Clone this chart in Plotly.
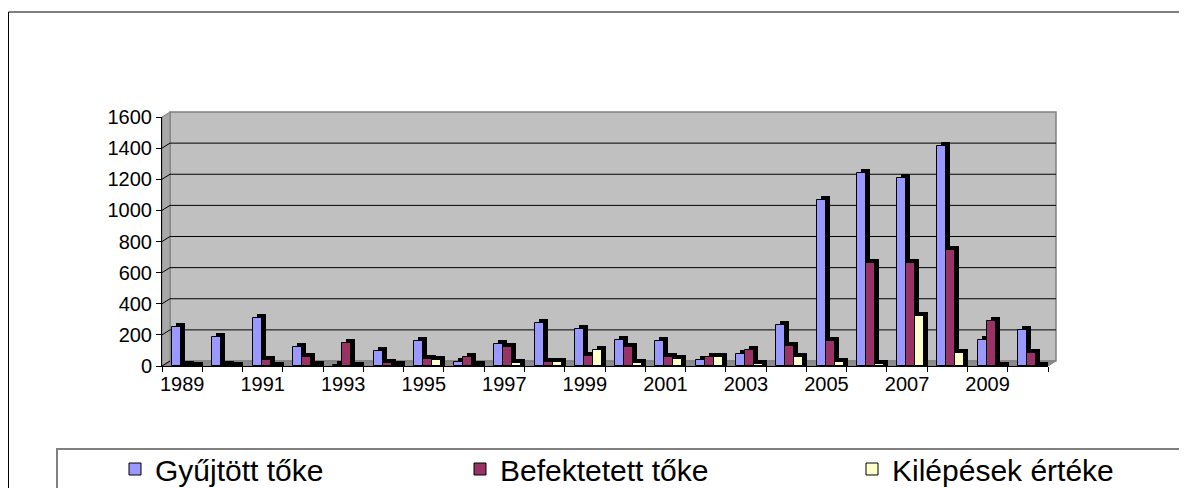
import plotly.graph_objects as go

# ---------------- data ----------------
years = list(range(1989, 2011))
gyujtott = [250, 185, 310, 120, 5, 95, 160, 25, 140, 275, 235, 170, 160, 40, 80, 265,
            1065, 1240, 1210, 1415, 165, 230]
befektetett = [5, 5, 40, 55, 150, 20, 45, 60, 125, 25, 65, 120, 60, 55, 100, 130,
               160, 660, 660, 745, 290, 85]
kilepesek = [0, 0, 0, 5, 0, 5, 40, 5, 20, 25, 100, 20, 45, 55, 15, 60,
             25, 15, 320, 85, 0, 0]
series_names = ["Gyűjtött tőke", "Befektetett tőke", "Kilépések értéke"]
series_values = [gyujtott, befektetett, kilepesek]
series_colors = ["#9999FF", "#993366", "#FFFFCC"]
label_years = years[::2]
tick_labels = [str(y) for y in label_years]
y_ticks = list(range(0, 1601, 200))

# ---------------- geometry (pixels, page coordinates) ----------------
PAGE_OFF = 8                         # default body margin of the html page
W, H = 1187 - PAGE_OFF, 488 - PAGE_OFF
L, R, T, B = 162, 1048, 117, 366     # plot area in page pixels
YMAX = 1600
unit = (R - L) / len(years)          # px per category
DX, DY = 8, 5                        # wall depth offset
bdx, bdy = 4, 4                      # bar depth
front_w = 9
offsets_px = [-10, -1, 8]
dv_units = bdy * YMAX / (B - T)


def px(x):
    return (x - L) / (R - L)


def py(y):
    return (B - y) / (B - T)


FONT = "Liberation Sans, Arial, sans-serif"

fig = go.Figure()

legends = ["legend", "legend2", "legend3"]
for i, (name, vals, col) in enumerate(zip(series_names, series_values, series_colors)):
    # dark depth (side + top faces)
    fig.add_trace(go.Bar(
        x=years, y=[v + dv_units for v in vals], base=0,
        offset=(offsets_px[i] + bdx) / unit, width=front_w / unit,
        marker=dict(color="black", line=dict(width=0)),
        showlegend=False, hoverinfo="skip"))
    # front face
    fig.add_trace(go.Bar(
        x=years, y=vals, name=name,
        offset=offsets_px[i] / unit, width=front_w / unit,
        marker=dict(color=col, line=dict(color="black", width=1)),
        legend=legends[i]))

shapes = []
# outer chart border
shapes.append(dict(type="rect", xref="paper", yref="paper",
                   x0=px(8.5), x1=px(1250), y0=py(560), y1=py(12),
                   line=dict(color="black", width=1), fillcolor="rgba(0,0,0,0)",
                   layer="below"))
# back wall
shapes.append(dict(type="rect", xref="paper", yref="paper",
                   x0=px(L + DX), x1=px(R + DX), y0=py(B - DY), y1=py(T - DY),
                   line=dict(color="#808080", width=1.5), fillcolor="#C0C0C0",
                   layer="below"))
# left side wall
shapes.append(dict(type="path", xref="paper", yref="paper",
                   path=f"M{px(L)},{py(B)} L{px(L)},{py(T)} L{px(L+DX)},{py(T-DY)} "
                        f"L{px(L+DX)},{py(B-DY)} Z",
                   line=dict(color="#808080", width=1), fillcolor="#A8A8A8",
                   layer="below"))
# floor
shapes.append(dict(type="path", xref="paper", yref="paper",
                   path=f"M{px(L)},{py(B)} L{px(R)},{py(B)} L{px(R+DX)},{py(B-DY)} "
                        f"L{px(L+DX)},{py(B-DY)} Z",
                   line=dict(color="#808080", width=1), fillcolor="#8C8C8C",
                   layer="below"))
# gridlines on the wall and connectors on the side wall
shift_units = DY * YMAX / (B - T)
for v in y_ticks:
    if 0 < v < YMAX:
        shapes.append(dict(type="line", xref="paper", yref="y",
                           x0=px(L + DX), x1=px(R + DX), y0=v + shift_units, y1=v + shift_units,
                           line=dict(color="black", width=1), layer="below"))
    if v < YMAX:
        shapes.append(dict(type="line", xref="paper", yref="y",
                           x0=px(L), x1=px(L + DX), y0=v, y1=v + shift_units,
                           line=dict(color="black", width=1), layer="below"))
# legend box
shapes.append(dict(type="rect", xref="paper", yref="paper",
                   x0=px(57), x1=px(1260), y0=py(560), y1=py(449),
                   line=dict(color="#808080", width=2), fillcolor="rgba(0,0,0,0)",
                   layer="below"))

legend_x_px = [115, 460, 852]
leg_common = dict(orientation="h", xanchor="left", yanchor="middle",
                  y=py(469), bgcolor="rgba(0,0,0,0)", borderwidth=0,
                  font=dict(family=FONT, size=30, color="black"))

fig.update_layout(
    width=W, height=H,
    margin=dict(l=L - PAGE_OFF, r=W - (R - PAGE_OFF), t=T - PAGE_OFF,
                b=H - (B - PAGE_OFF), pad=0, autoexpand=False),
    paper_bgcolor="white", plot_bgcolor="rgba(0,0,0,0)",
    barmode="overlay", bargap=0,
    shapes=shapes,
    font=dict(family=FONT, size=20, color="black"),
    xaxis=dict(range=[years[0] - 0.5, years[-1] + 0.5], tickmode="array",
               tickvals=label_years, ticktext=tick_labels, ticks="",
               showgrid=False, zeroline=False, showline=True, linecolor="black",
               linewidth=1, tickfont=dict(size=20, family=FONT),
               minor=dict(tickmode="array",
                          tickvals=[y - 0.5 for y in years] + [years[-1] + 0.5],
                          ticks="outside", ticklen=5, tickcolor="black", showgrid=False)),
    yaxis=dict(range=[0, YMAX], tickmode="array", tickvals=y_ticks,
               ticks="outside", ticklen=5, tickcolor="black",
               showgrid=False, zeroline=False, showline=True, linecolor="black",
               linewidth=1, tickfont=dict(size=20, family=FONT)),
    legend=dict(x=px(legend_x_px[0]), **leg_common),
    legend2=dict(x=px(legend_x_px[1]), **leg_common),
    legend3=dict(x=px(legend_x_px[2]), **leg_common),
)

fig.write_html("out.html")
